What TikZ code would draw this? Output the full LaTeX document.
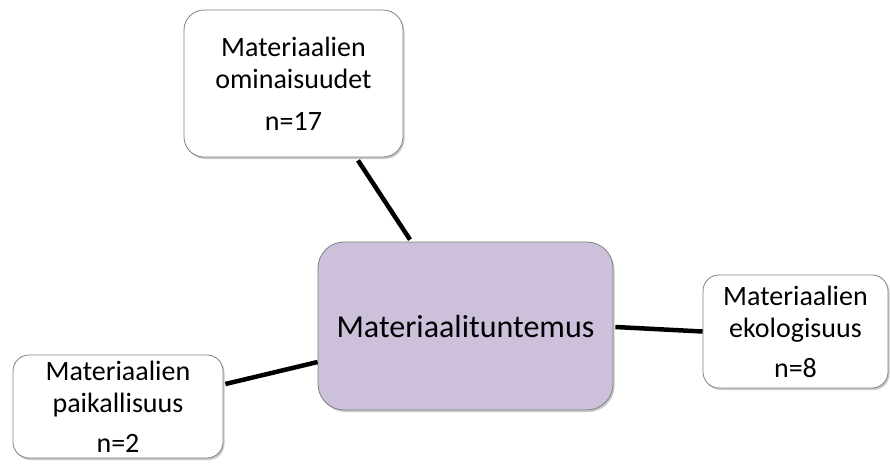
\documentclass[tikz,border=0pt]{standalone}
\usepackage{fontspec}
\setmainfont{Carlito}
\usetikzlibrary{shadows}
\definecolor{lav}{RGB}{204,192,218}
\definecolor{edge}{RGB}{128,128,128}
\tikzset{
  box/.style={draw=edge, line width=0.8pt, fill=white, align=center, inner sep=0pt,
    drop shadow={shadow xshift=1.5pt, shadow yshift=-2pt, opacity=0.35, fill=black!60},
    font=\fontsize{28}{32}\selectfont},
  mainbox/.style={box, fill=lav, rounded corners=26pt, font=\fontsize{32}{38}\selectfont},
  link/.style={line width=4.5pt, black}
}
\begin{document}
\begin{tikzpicture}[x=1pt,y=-1pt]
\useasboundingbox (0,0) rectangle (890,469);
\node[mainbox, minimum width=295pt, minimum height=168pt] (ctr) at (465.5,326) {Materiaalituntemus};
\node[box, rounded corners=20pt, minimum width=219pt, minimum height=147pt] (top) at (293.5,83.5) {Materiaalien\\ominaisuudet\\[10pt]n=17};
\node[box, rounded corners=16pt, minimum width=185pt, minimum height=113pt] (right) at (795.5,331.5) {Materiaalien\\ekologisuus\\[8pt]n=8};
\node[box, rounded corners=16pt, minimum width=210pt, minimum height=103pt] (left) at (118,406.5) {Materiaalien\\paikallisuus\\[8pt]n=2};
\draw[link] ([xshift=64.5pt,yshift=-3pt]top.south) -- ([xshift=-55.5pt,yshift=2pt]ctr.north);
\draw[link] ([xshift=2pt,yshift=-1pt]ctr.east) -- (right.west);
\draw[link] ([xshift=2pt,yshift=22.5pt]left.east) -- ([yshift=-36pt]ctr.west);
\end{tikzpicture}
\end{document}
